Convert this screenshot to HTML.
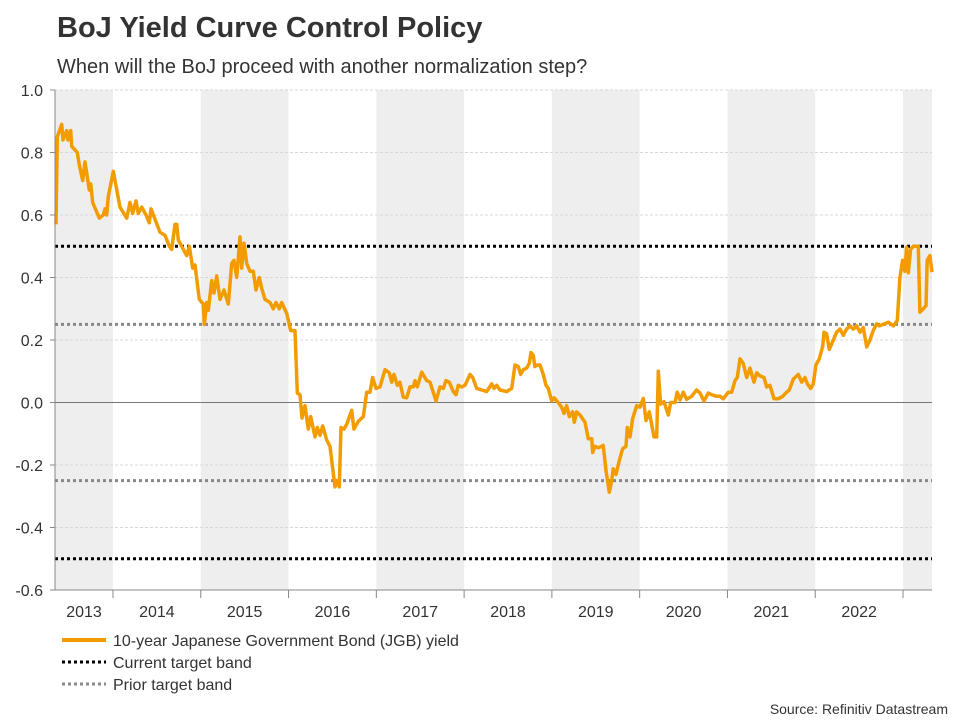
<!DOCTYPE html>
<html><head><meta charset="utf-8"><style>
body{margin:0;background:#fff;font-family:"Liberation Sans",Arial,sans-serif;}
svg text{font-family:"Liberation Sans",Arial,sans-serif;}
</style></head><body>
<svg id="chart" width="960" height="720" xmlns="http://www.w3.org/2000/svg">
<text x="57" y="37" font-size="29" font-weight="bold" fill="#333">BoJ Yield Curve Control Policy</text>
<text x="57" y="73" font-size="20" fill="#333">When will the BoJ proceed with another normalization step?</text>
<g id="bands"></g>
<g id="grid"></g>
<g id="refs"></g>
<g id="series"></g>
<g id="axes"></g>
<g>
<line x1="62" y1="640" x2="106" y2="640" stroke="#f39c00" stroke-width="4"/>
<text x="113" y="646" font-size="16" fill="#333">10-year Japanese Government Bond (JGB) yield</text>
<line x1="62" y1="662" x2="106" y2="662" stroke="#000" stroke-width="3" stroke-dasharray="3,3"/>
<text x="113" y="668" font-size="16" fill="#333">Current target band</text>
<line x1="62" y1="684" x2="106" y2="684" stroke="#888" stroke-width="3" stroke-dasharray="3,3"/>
<text x="113" y="690" font-size="16" fill="#333">Prior target band</text>
</g>
<text x="948" y="714" font-size="14" fill="#333" text-anchor="end">Source: Refinitiv Datastream</text>
</svg>
<script>
const yTicks=[1.0,0.8,0.6,0.4,0.2,0.0,-0.2,-0.4,-0.6];
const yearLabels=[2013,2014,2015,2016,2017,2018,2019,2020,2021,2022];
const currentBand=[0.5,-0.5];
const priorBand=[0.25,-0.25];
const dates=[2013.351,2013.365,2013.416,2013.430,2013.473,2013.487,2013.518,2013.530,2013.593,2013.616,2013.655,2013.681,2013.730,2013.746,2013.769,2013.844,2013.889,2013.909,2013.928,2013.946,2014.003,2014.080,2014.156,2014.194,2014.224,2014.262,2014.288,2014.327,2014.376,2014.414,2014.433,2014.535,2014.592,2014.641,2014.669,2014.706,2014.726,2014.744,2014.840,2014.869,2014.908,2014.934,2014.983,2015.029,2015.040,2015.067,2015.086,2015.124,2015.151,2015.181,2015.219,2015.265,2015.313,2015.352,2015.378,2015.409,2015.447,2015.466,2015.492,2015.523,2015.561,2015.598,2015.629,2015.667,2015.694,2015.732,2015.789,2015.826,2015.857,2015.895,2015.922,2015.979,2016.024,2016.073,2016.100,2016.130,2016.153,2016.187,2016.225,2016.252,2016.301,2016.327,2016.358,2016.389,2016.434,2016.472,2016.529,2016.552,2016.578,2016.597,2016.632,2016.662,2016.719,2016.745,2016.794,2016.851,2016.890,2016.928,2016.958,2016.996,2017.042,2017.099,2017.148,2017.175,2017.201,2017.239,2017.269,2017.307,2017.346,2017.383,2017.421,2017.440,2017.467,2017.517,2017.574,2017.611,2017.680,2017.725,2017.763,2017.794,2017.831,2017.877,2017.908,2017.934,2017.972,2018.010,2018.067,2018.098,2018.143,2018.200,2018.257,2018.314,2018.340,2018.371,2018.409,2018.485,2018.542,2018.580,2018.617,2018.645,2018.674,2018.713,2018.743,2018.762,2018.788,2018.807,2018.834,2018.864,2018.902,2018.933,2018.959,2018.998,2019.024,2019.072,2019.111,2019.138,2019.168,2019.198,2019.236,2019.255,2019.282,2019.320,2019.377,2019.415,2019.453,2019.465,2019.491,2019.529,2019.567,2019.585,2019.616,2019.654,2019.681,2019.699,2019.730,2019.768,2019.806,2019.844,2019.859,2019.890,2019.920,2019.966,2020.003,2020.041,2020.072,2020.110,2020.163,2020.194,2020.212,2020.239,2020.277,2020.326,2020.353,2020.402,2020.428,2020.459,2020.497,2020.535,2020.592,2020.649,2020.687,2020.733,2020.782,2020.820,2020.877,2020.915,2020.953,2021.010,2021.048,2021.086,2021.112,2021.143,2021.180,2021.219,2021.257,2021.302,2021.333,2021.371,2021.416,2021.447,2021.484,2021.530,2021.579,2021.629,2021.675,2021.705,2021.750,2021.807,2021.846,2021.883,2021.910,2021.948,2021.978,2022.008,2022.046,2022.085,2022.100,2022.130,2022.160,2022.199,2022.244,2022.282,2022.320,2022.358,2022.396,2022.434,2022.472,2022.510,2022.548,2022.586,2022.624,2022.661,2022.700,2022.730,2022.775,2022.832,2022.889,2022.935,2022.965,2022.996,2023.022,2023.041,2023.060,2023.087,2023.117,2023.174,2023.193,2023.231,2023.262,2023.276,2023.307,2023.330];
const yields=[0.57,0.85,0.89,0.84,0.87,0.84,0.87,0.82,0.80,0.76,0.71,0.77,0.68,0.70,0.64,0.59,0.60,0.62,0.60,0.66,0.74,0.625,0.59,0.64,0.605,0.645,0.605,0.625,0.60,0.575,0.62,0.545,0.535,0.50,0.49,0.57,0.57,0.52,0.47,0.50,0.43,0.44,0.33,0.315,0.25,0.32,0.295,0.39,0.35,0.405,0.33,0.36,0.315,0.445,0.455,0.40,0.53,0.43,0.51,0.445,0.42,0.42,0.36,0.40,0.365,0.33,0.32,0.30,0.32,0.30,0.32,0.285,0.23,0.23,0.03,0.025,-0.05,-0.01,-0.085,-0.045,-0.11,-0.08,-0.105,-0.075,-0.12,-0.14,-0.27,-0.25,-0.27,-0.08,-0.085,-0.07,-0.025,-0.085,-0.06,-0.045,0.033,0.033,0.08,0.045,0.05,0.105,0.095,0.065,0.09,0.055,0.065,0.017,0.015,0.05,0.05,0.07,0.05,0.097,0.07,0.065,0.005,0.05,0.045,0.07,0.065,0.035,0.025,0.055,0.05,0.055,0.09,0.08,0.045,0.04,0.035,0.06,0.045,0.055,0.04,0.035,0.045,0.12,0.115,0.09,0.105,0.11,0.125,0.16,0.15,0.115,0.12,0.12,0.09,0.055,0.045,0.005,0.015,0.0,-0.015,-0.035,-0.01,-0.045,-0.03,-0.063,-0.03,-0.04,-0.063,-0.116,-0.116,-0.16,-0.14,-0.145,-0.14,-0.137,-0.218,-0.287,-0.25,-0.212,-0.23,-0.186,-0.148,-0.14,-0.08,-0.11,-0.052,-0.01,-0.015,0.013,-0.058,-0.03,-0.11,-0.11,0.1,-0.005,0.003,-0.04,0.0,0.0,0.033,0.008,0.033,0.01,0.02,0.04,0.03,0.005,0.03,0.025,0.02,0.02,0.012,0.033,0.033,0.07,0.08,0.14,0.125,0.08,0.11,0.065,0.095,0.085,0.08,0.05,0.055,0.012,0.012,0.02,0.033,0.04,0.075,0.09,0.065,0.08,0.06,0.045,0.06,0.12,0.14,0.18,0.225,0.22,0.17,0.195,0.225,0.235,0.215,0.235,0.245,0.235,0.245,0.225,0.24,0.178,0.2,0.23,0.252,0.245,0.25,0.257,0.245,0.262,0.40,0.455,0.42,0.497,0.415,0.49,0.5,0.5,0.289,0.30,0.31,0.455,0.47,0.417];

const NS='http://www.w3.org/2000/svg';
const PL=55,PR=932,PT=90,PB=590;
const xMin=2013.34,xMax=2023.33,yMin=-0.6,yMax=1.0;
function xs(t){return 113+(t-2014)*(903-113)/9;}
function ys(v){return PB-(v-yMin)/(yMax-yMin)*(PB-PT);}
function mk(tag,attrs,parent){const e=document.createElementNS(NS,tag);for(const k in attrs)e.setAttribute(k,attrs[k]);parent.appendChild(e);return e;}
const bands=document.getElementById('bands'),grid=document.getElementById('grid'),refs=document.getElementById('refs'),series=document.getElementById('series'),axes=document.getElementById('axes');
// shading: odd years
for(const yr of yearLabels.concat([2023])){
  if((yr-2013)%2!==0)continue;
  const a=Math.max(xs(yr),PL),b=Math.min(xs(yr+1),PR);
  const r=mk('rect',{x:a,y:PT,width:b-a,height:PB-PT,fill:'#eeeeee'},bands);
  
  
}
// y grid + labels
for(const v of yTicks){
  const y=ys(v);
  if(v!==0&&v!==yMin){
    const g=mk('line',{x1:PL,x2:PR,y1:y,y2:y,stroke:'#d8d8d8','stroke-width':1,'stroke-dasharray':'3,2'},grid);
    
    
  }
  const tk=mk('line',{x1:PL-5,x2:PL,y1:y,y2:y,stroke:'#888','stroke-width':1},axes);
  
  
  const t=mk('text',{x:43,y:y+6,'font-size':16,fill:'#333','text-anchor':'end'},axes);
  t.textContent=v.toFixed(1);
  
  
}
const zl=mk('line',{x1:PL,x2:PR,y1:ys(0),y2:ys(0),stroke:'#777','stroke-width':1},grid);


// reference bands
for(const v of priorBand){
  const l=mk('line',{x1:PL,x2:PR,y1:ys(v),y2:ys(v),stroke:'#888','stroke-width':3,'stroke-dasharray':'3,3'},refs);
  
  
}
for(const v of currentBand){
  const l=mk('line',{x1:PL,x2:PR,y1:ys(v),y2:ys(v),stroke:'#000','stroke-width':3,'stroke-dasharray':'3,3'},refs);
  
  
}
// series
let d='';
for(let i=0;i<dates.length;i++){d+=(i?'L':'M')+xs(dates[i]).toFixed(1)+','+ys(yields[i]).toFixed(1);}
const p=mk('path',{d:d,fill:'none',stroke:'#f39c00','stroke-width':3.5,'stroke-linejoin':'round'},series);


// axes lines
const ya=mk('line',{x1:PL,x2:PL,y1:PT,y2:PB,stroke:'#888','stroke-width':1},axes);


const xa=mk('line',{x1:PL,x2:PR,y1:PB,y2:PB,stroke:'#888','stroke-width':1},axes);


for(const yr of yearLabels){
  const a=Math.max(xs(yr),PL),b=Math.min(xs(yr+1),PR);
  if(yr>yearLabels[0]){
    const tk=mk('line',{x1:xs(yr),x2:xs(yr),y1:PB,y2:PB+8,stroke:'#888','stroke-width':1},axes);
    
    
  }
  const t=mk('text',{x:(yr===2013?84:(a+b)/2),y:617,'font-size':16,fill:'#333','text-anchor':'middle'},axes);
  t.textContent=String(yr);
  
  
}
const tk=mk('line',{x1:xs(2023),x2:xs(2023),y1:PB,y2:PB+8,stroke:'#888','stroke-width':1},axes);


</script>
</body></html>
